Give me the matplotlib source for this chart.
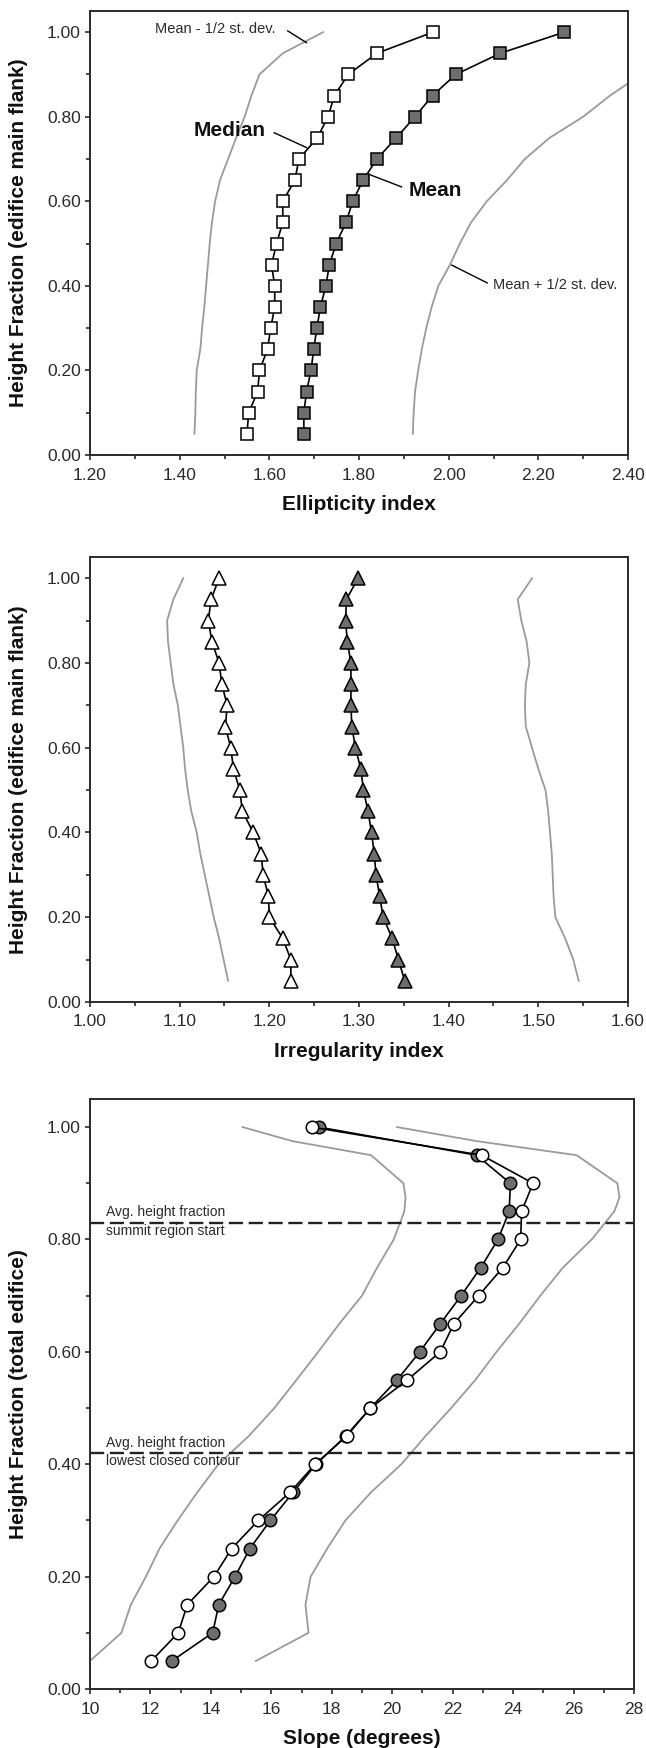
import matplotlib
matplotlib.use("Agg")
import matplotlib.pyplot as plt
from matplotlib.ticker import MultipleLocator, FormatStrFormatter

plt.rcParams['font.family'] = ['Liberation Sans', 'DejaVu Sans']

# ---------------- data ----------------
heights = [0.05, 0.10, 0.15, 0.20, 0.25, 0.30, 0.35, 0.40, 0.45, 0.50,
           0.55, 0.60, 0.65, 0.70, 0.75, 0.80, 0.85, 0.90, 0.95, 1.00]

# Panel A: ellipticity index
ell_median = [1.550, 1.554, 1.574, 1.578, 1.596, 1.603, 1.612, 1.612, 1.605, 1.616,
              1.630, 1.630, 1.657, 1.666, 1.707, 1.731, 1.745, 1.776, 1.840, 1.965]
ell_mean = [1.677, 1.677, 1.683, 1.693, 1.699, 1.706, 1.714, 1.726, 1.734, 1.749,
            1.771, 1.786, 1.809, 1.840, 1.883, 1.925, 1.964, 2.016, 2.115, 2.258]
ell_minus = [1.433, 1.435, 1.436, 1.438, 1.446, 1.450, 1.455, 1.459, 1.463, 1.467,
             1.472, 1.479, 1.490, 1.508, 1.526, 1.545, 1.560, 1.578, 1.630, 1.720]
ell_plus = [1.920, 1.922, 1.925, 1.932, 1.940, 1.950, 1.962, 1.977, 2.003, 2.025,
            2.050, 2.085, 2.130, 2.170, 2.225, 2.300, 2.360, 2.430, 2.500, 2.580]

# Panel B: irregularity index
irr_median = [1.224, 1.224, 1.215, 1.200, 1.199, 1.193, 1.191, 1.182, 1.170, 1.167,
              1.160, 1.157, 1.151, 1.153, 1.147, 1.144, 1.136, 1.132, 1.135, 1.144]
irr_mean = [1.351, 1.344, 1.337, 1.327, 1.323, 1.319, 1.317, 1.314, 1.310, 1.305,
            1.302, 1.296, 1.292, 1.291, 1.291, 1.291, 1.287, 1.285, 1.286, 1.299]
irr_minus = [1.154, 1.149, 1.144, 1.138, 1.133, 1.128, 1.123, 1.119, 1.113, 1.109,
             1.106, 1.104, 1.101, 1.098, 1.093, 1.090, 1.087, 1.086, 1.093, 1.104]
irr_plus = [1.545, 1.539, 1.530, 1.519, 1.517, 1.516, 1.515, 1.513, 1.511, 1.508,
            1.500, 1.493, 1.486, 1.485, 1.486, 1.490, 1.487, 1.481, 1.477, 1.493]

# Panel C: slope (degrees)
slope_mean = [12.71, 14.06, 14.26, 14.80, 15.29, 15.97, 16.72, 17.48, 18.46, 19.28,
              20.16, 20.91, 21.59, 22.28, 22.93, 23.50, 23.87, 23.91, 22.79, 17.57]
slope_median = [12.03, 12.92, 13.22, 14.10, 14.69, 15.57, 16.62, 17.45, 18.49, 19.28,
                20.50, 21.59, 22.04, 22.86, 23.66, 24.25, 24.28, 24.66, 22.96, 17.33]
sd_heights = [0.05, 0.10, 0.15, 0.20, 0.25, 0.30, 0.35, 0.40, 0.45, 0.50, 0.55,
              0.60, 0.65, 0.70, 0.75, 0.80, 0.85, 0.875, 0.90, 0.95, 0.975, 1.00]
slope_minus = [10.00, 11.04, 11.35, 11.85, 12.30, 12.90, 13.55, 14.25, 15.25, 16.10, 16.83,
               17.55, 18.25, 19.00, 19.50, 20.05, 20.40, 20.44, 20.37, 19.30, 16.70, 15.05]
slope_plus = [15.49, 17.23, 17.13, 17.30, 17.85, 18.45, 19.30, 20.30, 21.10, 21.95, 22.75,
              23.45, 24.20, 24.90, 25.65, 26.60, 27.35, 27.52, 27.45, 26.10, 22.80, 20.16]
summit_start = 0.83
lowest_contour = 0.42

# ---------------- style ----------------
W, H = 646, 1748
fig = plt.figure(figsize=(W / 100, H / 100), dpi=100)

def px_axes(left, right, top, bottom):
    return fig.add_axes([left / W, 1 - bottom / H, (right - left) / W, (bottom - top) / H])

SPINE = '#2a2a2a'
TXT = '#2a2a2a'
GRAY_LINE = '#9a9a9a'
FILL = '#6e6e6e'

def style(ax, xlim, xmaj, xmin, xfmt, xlabel, ylabel):
    ax.set_xlim(*xlim)
    ax.set_ylim(0, 1.05)
    ax.xaxis.set_major_locator(MultipleLocator(xmaj))
    ax.xaxis.set_minor_locator(MultipleLocator(xmin))
    ax.yaxis.set_major_locator(MultipleLocator(0.2))
    ax.yaxis.set_minor_locator(MultipleLocator(0.1))
    ax.xaxis.set_major_formatter(FormatStrFormatter(xfmt))
    ax.yaxis.set_major_formatter(FormatStrFormatter('%.2f'))
    for s in ax.spines.values():
        s.set_color(SPINE)
        s.set_linewidth(1.4)
    ax.tick_params(which='both', direction='out', color=SPINE, width=1.2,
                   labelcolor=TXT, labelsize=12.5, top=False, right=False)
    ax.tick_params(which='major', length=3.5)
    ax.tick_params(which='minor', length=3.0)
    ax.tick_params(axis='x', which='major', pad=5.5)
    ax.tick_params(axis='y', which='major', pad=3)
    ax.set_xlabel(xlabel, fontsize=15, fontweight='bold', color='#111', labelpad=9)
    ax.set_ylabel(ylabel, fontsize=15, fontweight='bold', color='#111', labelpad=14)

mk = dict(color='black', lw=1.2, mec='black', mew=1.1)

# ---------------- Panel A ----------------
ax1 = px_axes(90, 628, 11, 455)
ax1.plot(ell_minus, heights, color=GRAY_LINE, lw=1.3, zorder=1)
ax1.plot(ell_plus, heights, color=GRAY_LINE, lw=1.3, zorder=1)
ax1.plot(ell_median, heights, marker='s', ms=8.5, mfc='white', zorder=3, **mk)
ax1.plot(ell_mean, heights, marker='s', ms=8.5, mfc=FILL, zorder=3, **mk)
style(ax1, (1.2, 2.4), 0.2, 0.1, '%.2f', 'Ellipticity index',
      'Height Fraction (edifice main flank)')

ax1.text(1.346, 1.007, 'Mean - 1/2 st. dev.', fontsize=10.5, color=TXT, va='center', ha='left')
ax1.plot([1.641, 1.683], [1.003, 0.975], color='black', lw=1.0)
ax1.text(1.431, 0.767, 'Median', fontsize=15, fontweight='bold', color='#111', va='center', ha='left')
ax1.plot([1.611, 1.683], [0.762, 0.727], color='black', lw=1.0)
ax1.text(1.911, 0.626, 'Mean', fontsize=15, fontweight='bold', color='#111', va='center', ha='left')
ax1.plot([1.895, 1.824], [0.634, 0.663], color='black', lw=1.0)
ax1.text(2.099, 0.403, 'Mean + 1/2 st. dev.', fontsize=10.5, color=TXT, va='center', ha='left')
ax1.plot([2.086, 2.007], [0.407, 0.449], color='black', lw=1.0)

# ---------------- Panel B ----------------
ax2 = px_axes(90, 628, 557, 1002)
ax2.plot(irr_minus, heights, color=GRAY_LINE, lw=1.3, zorder=1)
ax2.plot(irr_plus, heights, color=GRAY_LINE, lw=1.3, zorder=1)
ax2.plot(irr_median, heights, marker='^', ms=9.5, mfc='white', zorder=3, **mk)
ax2.plot(irr_mean, heights, marker='^', ms=9.5, mfc=FILL, zorder=3, **mk)
style(ax2, (1.0, 1.6), 0.1, 0.05, '%.2f', 'Irregularity index',
      'Height Fraction (edifice main flank)')

# ---------------- Panel C ----------------
ax3 = px_axes(90, 634, 1099, 1689)
ax3.plot(slope_minus, sd_heights, color=GRAY_LINE, lw=1.3, zorder=1)
ax3.plot(slope_plus, sd_heights, color=GRAY_LINE, lw=1.3, zorder=1)
ax3.axhline(summit_start, color='#222', lw=1.7, dashes=(6.0, 2.4), zorder=2)
ax3.axhline(lowest_contour, color='#222', lw=1.7, dashes=(6.0, 2.4), zorder=2)
ax3.plot(slope_mean, heights, marker='o', ms=9, mfc=FILL, zorder=3, **mk)
ax3.plot(slope_median, heights, marker='o', ms=9, mfc='white', zorder=4, **mk)
style(ax3, (10, 28), 2, 1, '%d', 'Slope (degrees)', 'Height Fraction (total edifice)')

ax3.text(10.53, 0.849, 'Avg. height fraction', fontsize=10, color=TXT, va='center', ha='left')
ax3.text(10.53, 0.815, 'summit region start', fontsize=10, color=TXT, va='center', ha='left')
ax3.text(10.53, 0.438, 'Avg. height fraction', fontsize=10, color=TXT, va='center', ha='left')
ax3.text(10.53, 0.405, 'lowest closed contour', fontsize=10, color=TXT, va='center', ha='left')

fig.savefig('out.png', dpi=100)
